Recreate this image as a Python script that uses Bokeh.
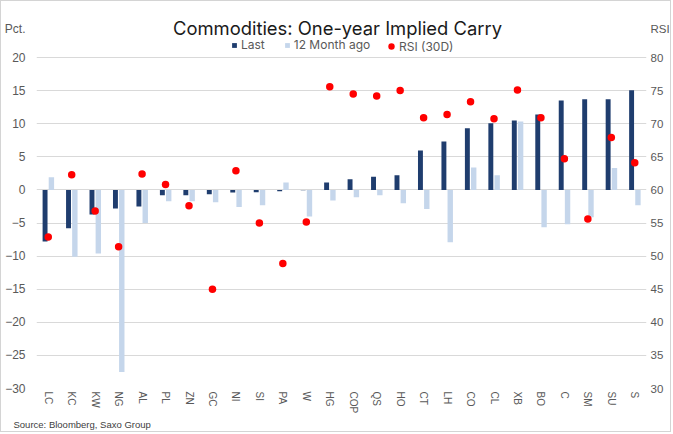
from bokeh.plotting import figure
from bokeh.models import (Range1d, LinearAxis, FixedTicker, Label, Legend, LegendItem,
                          ColumnDataSource, FactorRange, Title)
from bokeh.transform import dodge
from bokeh.embed import file_html
from bokeh.resources import INLINE
import math

categories = ["LC", "KC", "KW", "NG", "AL", "PL", "ZN", "GC", "NI", "SI", "PA", "W", "HG",
              "COP", "QS", "HO", "CT", "LH", "CO", "CL", "XB", "BO", "C", "SM", "SU", "S"]
last = [-7.8, -5.8, -3.7, -2.8, -2.5, -0.8, -0.8, -0.65, -0.4, -0.35, -0.2, -0.05, 1.1,
        1.6, 2.0, 2.2, 5.95, 7.3, 9.3, 10.05, 10.5, 11.4, 13.5, 13.7, 13.7, 15.05]
month12_ago = [1.9, -10.1, -9.6, -27.5, -5.0, -1.7, -1.7, -1.85, -2.6, -2.3, 1.1, -4.0, -1.6,
               -1.1, -0.8, -2.0, -2.9, -7.9, 3.4, 2.2, 10.35, -5.65, -5.2, -4.15, 3.3, -2.3]
rsi_30d = [52.9, 62.3, 56.8, 51.4, 62.4, 60.8, 57.6, 45.0, 62.9, 55.0, 48.9, 55.15, 75.6,
           74.5, 74.2, 75.0, 70.9, 71.4, 73.3, 70.75, 75.1, 70.9, 64.7, 55.6, 67.9, 64.1]
pct_ticks = [-30, -25, -20, -15, -10, -5, 0, 5, 10, 15, 20]
rsi_ticks = [30, 35, 40, 45, 50, 55, 60, 65, 70, 75, 80]
pct_caption = "Pct."
rsi_caption = "RSI"
title_text = "Commodities: One-year Implied Carry"
source_text = "Source: Bloomberg,  Saxo Group"

src = ColumnDataSource(dict(cat=categories, last=last, ago=month12_ago, rsi=rsi_30d))

DARK = "#1F3D6E"
LIGHT = "#C5D6EB"
RED = "#FF0000"
GRID = "#D9D9D9"
TXT = "#595959"

OFF = 1                           # 1px CSS border around the chart
W, H = 673 - 2 * OFF, 434 - 2 * OFF
BORDER_L = 35 - OFF
BORDER_R = W - (647 - OFF)
FRAME_H = 388 - OFF               # frame spans whole top area
BORDER_B = H - FRAME_H
GRID_TOP_PX = 57 - OFF            # where the "20" gridline sits
unit_px = (FRAME_H - GRID_TOP_PX) / 50.0
y_top = 20 + GRID_TOP_PX / unit_px
caption_pos = round(20 + 28 / unit_px, 2)   # "Pct." / "RSI" row, 28px above the top gridline

p = figure(width=W, height=H, output_backend="svg", toolbar_location=None,
           x_range=FactorRange(*categories, range_padding=0),
           y_range=Range1d(-30, y_top), title_location=None,
           min_border_left=BORDER_L, min_border_right=BORDER_R, min_border_top=0,
           min_border_bottom=BORDER_B)
p.extra_y_ranges = {"rsi": Range1d(30, y_top + 60)}
p.outline_line_color = None
p.background_fill_color = "white"
p.border_fill_color = "white"
p.styles = {"border": "1px solid #D4D4D4"}

r_last = p.vbar(x=dodge("cat", -0.135, range=p.x_range), top="last", bottom=0, width=0.21,
                source=src, fill_color=DARK, line_color=None)
r_ago = p.vbar(x=dodge("cat", 0.135, range=p.x_range), top="ago", bottom=0, width=0.23,
               source=src, fill_color=LIGHT, line_color=None)
r_rsi = p.scatter(x="cat", y="rsi", source=src, y_range_name="rsi", size=7.5,
                  fill_color=RED, line_color=None)

# left axis (Pct.) with caption as top label
p.yaxis.ticker = FixedTicker(ticks=pct_ticks + [caption_pos])
p.yaxis.major_label_overrides = {caption_pos: pct_caption}
p.yaxis.axis_line_color = None
p.yaxis.major_tick_line_color = None
p.yaxis.minor_tick_line_color = None
p.yaxis.major_tick_out = 0
p.yaxis.major_tick_in = 0
p.yaxis.major_label_standoff = 11
p.yaxis.major_label_text_font = "Liberation Sans"
p.yaxis.major_label_text_font_size = "12px"
p.yaxis.major_label_text_color = TXT

# right axis (RSI)
rsi_cap_pos = round(caption_pos + 60, 2)
ax_r = LinearAxis(y_range_name="rsi", ticker=FixedTicker(ticks=rsi_ticks + [rsi_cap_pos]))
ax_r.major_label_overrides = {rsi_cap_pos: rsi_caption}
ax_r.axis_line_color = None
ax_r.major_tick_line_color = None
ax_r.minor_tick_line_color = None
ax_r.major_tick_out = 0
ax_r.major_tick_in = 0
ax_r.major_label_standoff = 4
ax_r.major_label_text_font = "Liberation Sans"
ax_r.major_label_text_font_size = "11.5px"
ax_r.major_label_text_color = TXT
p.add_layout(ax_r, "right")

p.xaxis.axis_line_color = None
p.xaxis.major_tick_line_color = None
p.xaxis.minor_tick_line_color = None
p.xaxis.major_tick_out = 0
p.xaxis.major_tick_in = 0
p.xaxis.major_label_orientation = -math.pi / 2
p.xaxis.major_label_standoff = 3
p.xaxis.major_label_text_font = "Liberation Sans"
p.xaxis.major_label_text_font_size = "10px"
p.xaxis.major_label_text_color = TXT

p.xgrid.grid_line_color = None
p.ygrid.ticker = FixedTicker(ticks=pct_ticks)
p.ygrid.grid_line_color = GRID
p.ygrid.grid_line_width = 1

# title inside the (extended) frame
p.add_layout(Label(x=336 - 35, y=388 - 27, x_units="screen", y_units="screen",
                   text=title_text, text_align="center", text_baseline="alphabetic",
                   text_font="Inter", text_font_size="18.4px", text_color="#1A1A1A"))

leg1 = Legend(items=[LegendItem(label="Last", renderers=[r_last], index=0),
                     LegendItem(label="12 Month ago", renderers=[r_ago], index=0)],
              location=(230 - 35, 388 - 52), orientation="horizontal",
              glyph_width=6, glyph_height=6, label_standoff=4, spacing=19,
              label_height=12, padding=0, margin=0, border_line_color=None,
              background_fill_alpha=0, label_text_font="Inter",
              label_text_font_size="12px", label_text_color=TXT)
leg2 = Legend(items=[LegendItem(label="RSI (30D)", renderers=[r_rsi], index=0)],
              location=(382 - 35, 388 - 54), orientation="horizontal",
              glyph_width=16, glyph_height=16, label_standoff=0, spacing=0,
              label_height=12, padding=0, margin=0, border_line_color=None,
              background_fill_alpha=0, label_text_font="Inter",
              label_text_font_size="12px", label_text_color=TXT)
p.add_layout(leg1, "center")
p.add_layout(leg2, "center")

p.add_layout(Title(text=source_text, align="left", offset=-23, standoff=0,
                   text_font="Liberation Sans", text_font_size="9.5px",
                   text_font_style="normal", text_color="#404040"), "below")

open("out.html", "w").write(file_html(p, INLINE))
